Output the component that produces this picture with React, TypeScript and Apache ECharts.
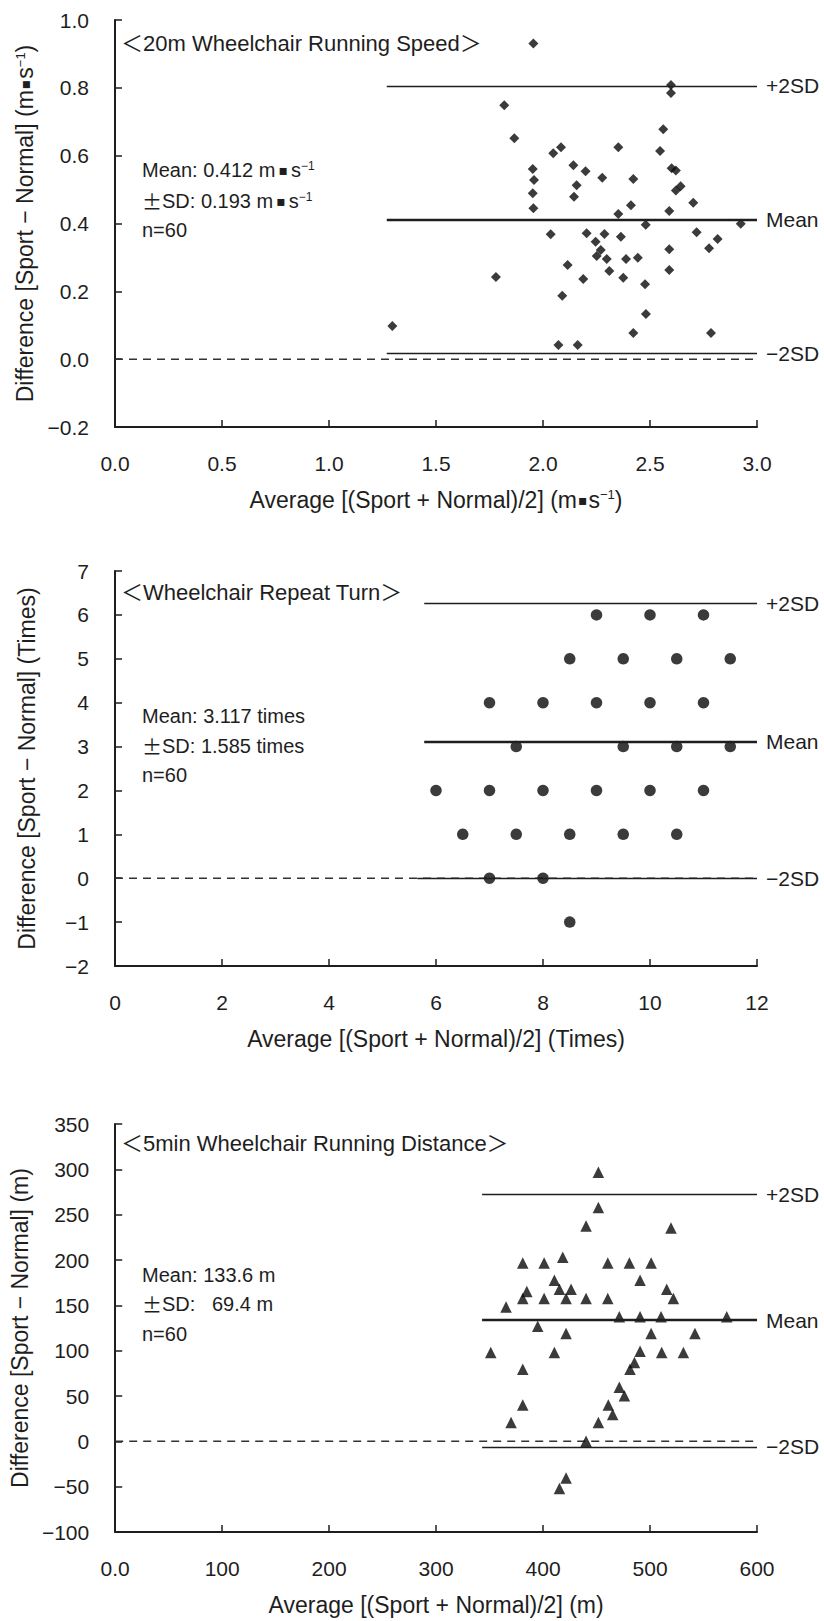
import React, { useEffect, useRef } from "react";
import * as echarts from "echarts";

// ---------- Panel 1: 20m Wheelchair Running Speed ----------
const speedAvg = [1.955, 2.598, 2.598, 1.819, 1.866, 2.562, 2.084, 2.048, 2.352, 2.547, 1.952, 2.142, 2.199, 2.601, 2.621, 1.958, 2.277, 2.422, 2.157, 2.643, 2.621, 1.952, 2.145, 2.702, 2.411, 1.955, 2.59, 2.352, 2.924, 2.48, 2.036, 2.204, 2.287, 2.364, 2.718, 2.246, 2.816, 2.27, 2.59, 2.776, 2.251, 2.298, 2.388, 2.443, 2.115, 2.59, 2.31, 1.78, 2.188, 2.375, 2.477, 2.09, 2.481, 1.296, 2.422, 2.785, 2.072, 2.162];
const speedDiff = [0.931, 0.808, 0.785, 0.749, 0.651, 0.678, 0.625, 0.607, 0.625, 0.614, 0.561, 0.572, 0.554, 0.563, 0.556, 0.528, 0.535, 0.531, 0.513, 0.51, 0.497, 0.489, 0.479, 0.461, 0.454, 0.445, 0.437, 0.428, 0.399, 0.396, 0.368, 0.371, 0.369, 0.361, 0.374, 0.346, 0.354, 0.322, 0.324, 0.327, 0.304, 0.295, 0.295, 0.299, 0.278, 0.263, 0.26, 0.242, 0.236, 0.24, 0.221, 0.187, 0.133, 0.098, 0.077, 0.077, 0.042, 0.042];
const speedLimits = [0.806, 0.412, 0.018]; // +2SD, Mean, -2SD
const speedLineStart = [1.27, 1.27, 1.27];
const speedXRange = [0, 3, 0.5];
const speedYRange = [-0.2, 1.0, 0.2];

// ---------- Panel 2: Wheelchair Repeat Turn ----------
const turnAvg = [9, 10, 11, 8.5, 9.5, 10.5, 11.5, 7, 8, 9, 10, 11, 7.5, 9.5, 10.5, 11.5, 6, 7, 8, 9, 10, 11, 6.5, 7.5, 8.5, 9.5, 10.5, 7, 8, 8.5];
const turnDiff = [6, 6, 6, 5, 5, 5, 5, 4, 4, 4, 4, 4, 3, 3, 3, 3, 2, 2, 2, 2, 2, 2, 1, 1, 1, 1, 1, 0, 0, -1];
const turnLimits = [6.26, 3.117, -0.01];
const turnLineStart = [5.78, 5.78, 5.65];
const turnXRange = [0, 12, 2];
const turnYRange = [-2, 7, 1];

// ---------- Panel 3: 5min Wheelchair Running Distance ----------
const distAvg = [451.7, 451.7, 440.2, 519.6, 381, 401, 418.4, 460.5, 480.7, 501, 410.6, 490.7, 384.8, 415.3, 426.2, 515.6, 381, 401, 421.5, 440.2, 460.5, 521.8, 365.4, 471.3, 490.7, 510.3, 571.7, 395, 421.5, 501, 542, 351.1, 410.6, 490.7, 510.9, 531.2, 485.4, 481.3, 381, 471.3, 476, 381, 461, 465.1, 370.1, 451.7, 440.2, 421.5, 415.3];
const distDiff = [296.7, 257.8, 237.4, 235.2, 196.7, 196.7, 203, 196.7, 196.7, 196.7, 177.8, 177.8, 165.2, 167.8, 167.8, 167.8, 157.4, 157.4, 157.4, 157.4, 157.4, 157.4, 148.1, 137.4, 137.4, 137.4, 137.4, 127, 118.9, 118.9, 118.9, 98.1, 98.1, 99.3, 98.1, 98.1, 87, 79.6, 79.6, 59.6, 50.4, 40, 40, 29.6, 20.7, 20.7, 0, -40.4, -51.9];
const distLimits = [272.4, 133.6, -6];
const distLineStart = [343, 343, 343];
const distXRange = [0, 600, 100];
const distYRange = [-100, 350, 50];

const limitNames = ["+2SD", "Mean", "\u22122SD"];

const FONT = "'Liberation Sans', Arial, 'Noto Sans CJK JP', sans-serif";
const CJK = "'Noto Sans CJK JP', sans-serif";
const INK = "#1e1e1e";
const DOT = "{dot|\u25AA}";
const UNIT = "m" + DOT + "s{sup|\u22121}";

const minus = (s: string) => s.replace("-", "\u2212");

type Panel = {
  avg: number[];
  diff: number[];
  limits: number[];
  starts: number[];
  xr: number[];
  yr: number[];
  symbol: string;
  symbolSize: number;
  top: number;
  height: number;
  xName: string;
  yName: string;
  xFmt: (v: number) => string;
  yFmt: (v: number) => string;
};

const panels: Panel[] = [
  {
    avg: speedAvg, diff: speedDiff, limits: speedLimits, starts: speedLineStart,
    xr: speedXRange, yr: speedYRange, symbol: "diamond", symbolSize: 10,
    top: 20, height: 407,
    xName: "Average [(Sport + Normal)/2] (" + UNIT + ")",
    yName: "Difference [Sport \u2212 Normal] (" + UNIT + ")",
    xFmt: (v) => v.toFixed(1), yFmt: (v) => minus(v.toFixed(1)),
  },
  {
    avg: turnAvg, diff: turnDiff, limits: turnLimits, starts: turnLineStart,
    xr: turnXRange, yr: turnYRange, symbol: "circle", symbolSize: 11.5,
    top: 571, height: 395,
    xName: "Average [(Sport + Normal)/2] (Times)",
    yName: "Difference [Sport \u2212 Normal] (Times)",
    xFmt: (v) => String(Math.round(v)), yFmt: (v) => minus(String(Math.round(v))),
  },
  {
    avg: distAvg, diff: distDiff, limits: distLimits, starts: distLineStart,
    xr: distXRange, yr: distYRange, symbol: "triangle", symbolSize: 11.5,
    top: 1124, height: 408,
    xName: "Average [(Sport + Normal)/2] (m)",
    yName: "Difference [Sport \u2212 Normal] (m)",
    xFmt: (v) => (v === 0 ? "0.0" : String(Math.round(v))), yFmt: (v) => minus(String(Math.round(v))),
  },
];

const titles = [
  "\uFF1C20m Wheelchair Running Speed\uFF1E",
  "\uFF1CWheelchair Repeat Turn\uFF1E",
  "\uFF1C5min Wheelchair Running Distance\uFF1E",
];
const titleY = [43, 592, 1143];

const notes = [
  ["Mean: 0.412 " + UNIT, "{pm|\u00B1}SD: 0.193 " + UNIT, "n=60"],
  ["Mean: 3.117 times", "{pm|\u00B1}SD: 1.585 times", "n=60"],
  ["Mean: 133.6 m", "{pm|\u00B1}SD:\u00A0\u00A0 69.4 m", "n=60"],
];
const noteY = [
  [170, 201, 230],
  [716, 746, 775],
  [1275, 1304, 1334],
];

function buildOption() {
  const grid: any[] = [];
  const xAxis: any[] = [];
  const yAxis: any[] = [];
  const series: any[] = [];
  const graphic: any[] = [];

  const nameRich = {
    sup: { fontSize: 13, verticalAlign: "top", fontFamily: FONT, color: INK },
    dot: { fontSize: 14, fontFamily: "'DejaVu Sans', sans-serif", color: INK, padding: [0, 1, 0, 1] },
  };

  panels.forEach((p, i) => {
    grid.push({ left: 115, width: 642, top: p.top, height: p.height, containLabel: false });
    const axisCommon = {
      axisLine: { show: true, onZero: false, lineStyle: { color: INK, width: 2 } },
      axisTick: { show: true, inside: true, length: 7, lineStyle: { color: INK, width: 1.5 } },
      splitLine: { show: false },
    };
    xAxis.push({
      ...axisCommon,
      type: "value",
      gridIndex: i,
      position: "bottom",
      min: p.xr[0],
      max: p.xr[1],
      interval: p.xr[2],
      axisLabel: { color: INK, fontSize: 21, fontFamily: FONT, margin: 26, formatter: p.xFmt },
      name: p.xName,
      nameLocation: "middle",
      nameGap: 61,
      nameTextStyle: { color: INK, fontSize: 23, fontFamily: FONT, rich: nameRich },
    });
    yAxis.push({
      ...axisCommon,
      type: "value",
      gridIndex: i,
      position: "left",
      min: p.yr[0],
      max: p.yr[1],
      interval: p.yr[2],
      axisLabel: { color: INK, fontSize: 21, fontFamily: FONT, margin: 26, formatter: p.yFmt },
      name: p.yName,
      nameLocation: "middle",
      nameGap: 77,
      nameTextStyle: { color: INK, fontSize: 23, fontFamily: FONT, rich: nameRich },
    });

    // dashed zero reference line across the whole plot
    series.push({
      type: "line",
      xAxisIndex: i,
      yAxisIndex: i,
      symbol: "none",
      silent: true,
      z: 1,
      lineStyle: { color: "#333", width: 1.5, type: [8, 6] },
      data: [[p.xr[0], 0], [p.xr[1], 0]],
    });

    const xMax = p.xr[1];
    const widths = [1.3, 2.3, 1.3];
    const lineData: any[] = [];
    p.limits.forEach((v, k) => {
      lineData.push([
        { name: limitNames[k], coord: [p.starts[k], v], lineStyle: { width: widths[k], type: "solid", color: INK } },
        { name: limitNames[k], coord: [xMax, v] },
      ]);
    });

    series.push({
      type: "scatter",
      xAxisIndex: i,
      yAxisIndex: i,
      symbol: p.symbol,
      symbolSize: p.symbolSize,
      itemStyle: { color: "#0a0a0a" },
      z: 3,
      data: p.avg.map((x, k) => [x, p.diff[k]]),
      markLine: {
        silent: true,
        symbol: ["none", "none"],
        animation: false,
        label: { show: true, position: "end", formatter: "{b}", color: INK, fontSize: 21, fontFamily: FONT, distance: 9 },
        data: lineData,
      },
    });

    graphic.push({
      type: "text",
      x: 121,
      y: titleY[i],
      style: { text: titles[i], fill: INK, fontSize: 22, fontFamily: FONT, verticalAlign: "middle" },
    });
    notes[i].forEach((t, k) => {
      graphic.push({
        type: "text",
        x: 142,
        y: noteY[i][k],
        style: {
          text: t,
          fill: INK,
          fontSize: 20,
          fontFamily: FONT,
          verticalAlign: "middle",
          rich: {
            sup: { fontSize: 12, verticalAlign: "top", fontFamily: FONT, fill: INK },
            dot: { fontSize: 14, fontFamily: "'DejaVu Sans', sans-serif", fill: INK, padding: [0, 3, 0, 3] },
            pm: { fontSize: 20, fontFamily: CJK, fill: INK },
          },
        },
      });
    });
  });

  return {
    animation: false,
    backgroundColor: "#fff",
    textStyle: { fontFamily: FONT },
    grid,
    xAxis,
    yAxis,
    series,
    graphic,
  };
}

export default function App() {
  const ref = useRef<HTMLDivElement | null>(null);
  useEffect(() => {
    document.body.style.margin = "0";
    if (!ref.current) return;
    const chart = echarts.init(ref.current, undefined, { renderer: "svg" });
    chart.setOption(buildOption() as any);
    return () => chart.dispose();
  }, []);
  return <div ref={ref} style={{ width: 824, height: 1621, background: "#fff" }} />;
}
